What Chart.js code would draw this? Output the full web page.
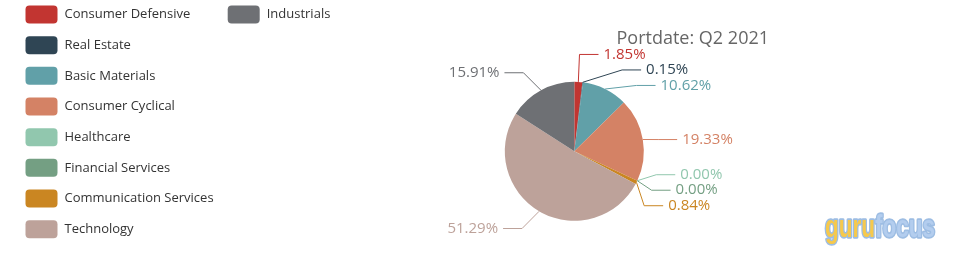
<!DOCTYPE html>
<html>
<head>
<meta charset="utf-8">
<script src="https://cdn.jsdelivr.net/npm/chart.js@4"></script>
<style>
    html, body { margin: 0; padding: 0; background: #fff; }
    #wrap { width: 957px; height: 253px; }
</style>
</head>
<body>
<div id="wrap"><canvas id="sector-chart" width="957" height="253"></canvas></div>
<script>
const sectors = ['Consumer Defensive', 'Real Estate', 'Basic Materials', 'Consumer Cyclical', 'Healthcare',
    'Financial Services', 'Communication Services', 'Technology', 'Industrials'];
const weights = [1.85, 0.15, 10.62, 19.33, 0.00, 0.00, 0.84, 51.29, 15.91];
const sectorColors = ['#c23531', '#2f4554', '#61a0a8', '#d48265', '#91c7ae', '#749f83', '#ca8622', '#bda29a', '#6e7074'];
const titleText = 'Portdate: Q2 2021';

const FONT = '"Open Sans", sans-serif';

// echarts-like outside labels with two-segment label lines
const pieLabels = {
    id: 'pieLabels',
    afterDatasetsDraw(chart) {
        const ctx = chart.ctx;
        const meta = chart.getDatasetMeta(0);
        const len = 20, len2 = 19, gap = 5, h = 15.5;
        const items = [];
        let cx = 0, cy = 0, r = 0;
        meta.data.forEach((el, i) => {
            const p = el.getProps(['x', 'y', 'startAngle', 'endAngle', 'outerRadius'], true);
            cx = p.x; cy = p.y; r = p.outerRadius;
            const mid = (p.startAngle + p.endAngle) / 2;
            const dx = Math.cos(mid), dy = Math.sin(mid);
            const dir = dx < 0 ? -1 : 1;
            const x1 = cx + r * dx, y1 = cy + r * dy;
            const x2 = cx + (r + len) * dx, y2 = cy + (r + len) * dy;
            items.push({ i, dir, x1, y1, x: x2 + dir * (len2 + gap), y: y2, h });
        });

        function adjustSide(list, dir) {
            list.sort((a, b) => a.y - b.y);
            const n = list.length;
            function shiftUp(end, delta) {
                for (let j = end; j >= 0; j--) {
                    if (list[j].y - delta < 0) break;
                    list[j].y -= delta;
                    if (j > 0 && list[j].y > list[j - 1].y + list[j - 1].h) break;
                }
            }
            function shiftDown(start, end, delta) {
                for (let j = start; j < end; j++) {
                    if (list[j].y + delta > chart.height) break;
                    list[j].y += delta;
                    if (j > start && j + 1 < end && list[j + 1].y > list[j].y + list[j].h) {
                        shiftUp(j, delta / 2);
                        return;
                    }
                }
                shiftUp(end - 1, delta / 2);
            }
            let lastY = 0;
            for (let i = 0; i < n; i++) {
                const d = list[i].y - lastY;
                if (d < 0) shiftDown(i, n, -d);
                lastY = list[i].y + list[i].h;
            }
            function changeX(sub, isDown) {
                let last = isDown ? Number.MAX_VALUE : 0;
                sub.forEach(it => {
                    const ady = Math.abs(it.y - cy);
                    let ddx = ady < r + len
                        ? Math.sqrt((r + len + len2) * (r + len + len2) - ady * ady)
                        : Math.abs(it.x - cx);
                    if (isDown && ddx >= last) ddx = last - 10;
                    if (!isDown && ddx <= last) ddx = last + 10;
                    it.x = cx + ddx * dir;
                    last = ddx;
                });
            }
            changeX(list.filter(it => it.y < cy), false);
            changeX(list.filter(it => it.y >= cy), true);
        }
        adjustSide(items.filter(it => it.dir > 0), 1);
        adjustSide(items.filter(it => it.dir < 0), -1);

        ctx.save();
        ctx.font = '15px ' + FONT;
        ctx.textBaseline = 'middle';
        ctx.lineWidth = 1;
        items.forEach(it => {
            const color = sectorColors[it.i];
            const end = it.x - it.dir * gap;
            const bend = end - it.dir * len2;
            ctx.strokeStyle = color;
            ctx.beginPath();
            ctx.moveTo(it.x1, it.y1);
            ctx.lineTo(bend, it.y);
            ctx.lineTo(end, it.y);
            ctx.stroke();
            ctx.fillStyle = color;
            ctx.textAlign = it.dir > 0 ? 'left' : 'right';
            ctx.fillText(weights[it.i].toFixed(2) + '%', it.x, it.y);
        });
        ctx.restore();
    }
};

// legend in two columns, title and watermark
const decorations = {
    id: 'decorations',
    afterDraw(chart) {
        const ctx = chart.ctx;
        ctx.save();
        ctx.font = '13px ' + FONT;
        ctx.textBaseline = 'middle';
        ctx.textAlign = 'left';
        sectors.forEach((name, i) => {
            const col = Math.floor(i / 8), row = i % 8;
            const bx = 25.5 + col * 202.2;
            const y = 14.5 + row * 30.67;
            ctx.fillStyle = sectorColors[i];
            ctx.beginPath();
            ctx.roundRect(bx, y - 9, 32, 18, 4);
            ctx.fill();
            ctx.fillStyle = '#333';
            ctx.fillText(name, bx + 39, y);
        });

        ctx.font = '18px ' + FONT;
        ctx.fillStyle = '#666';
        ctx.fillText(titleText, 616.5, 38.5);

        // gurufocus watermark, squeezed to its width in the picture
        ctx.font = 'bold 31px "Liberation Sans", sans-serif';
        ctx.textBaseline = 'alphabetic';
        const full = ctx.measureText('gurufocus').width;
        ctx.translate(825, 236.5);
        ctx.scale(110 / full, 1);
        ctx.lineJoin = 'round';
        ctx.lineWidth = 3.5;
        ctx.strokeStyle = '#9dbde3';
        ctx.strokeText('guru', 0, 0);
        ctx.fillStyle = '#f6c94c';
        ctx.fillText('guru', 0, 0);
        const gw = ctx.measureText('guru').width;
        ctx.strokeText('focus', gw, 0);
        ctx.fillStyle = '#b3cdee';
        ctx.fillText('focus', gw, 0);
        ctx.restore();
    }
};

new Chart(document.getElementById('sector-chart'), {
    type: 'pie',
    data: {
        labels: sectors,
        datasets: [{
            data: weights,
            backgroundColor: sectorColors,
            borderWidth: 0,
            radius: 69.5,
        }]
    },
    options: {
        responsive: false,
        animation: false,
        layout: {
            padding: { left: 494.3, right: 302.7, top: 71.3, bottom: 21.7 }
        },
        plugins: {
            legend: { display: false },
            tooltip: { enabled: false },
            title: { display: false }
        }
    },
    plugins: [pieLabels, decorations]
});
</script>
</body>
</html>
